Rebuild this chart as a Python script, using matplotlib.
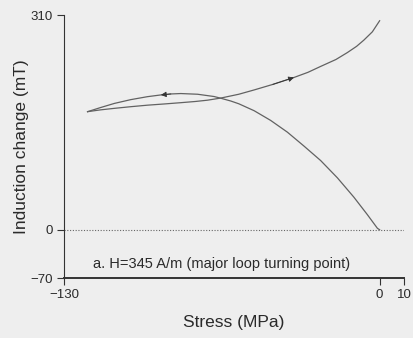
#!/usr/bin/env python3
"""Induction change vs stress, major loop turning point (H=345 A/m)."""

import matplotlib
matplotlib.use('Agg')
import matplotlib.pyplot as plt

plt.rcParams['font.family'] = ['Liberation Sans', 'DejaVu Sans']

# Unloading branch: from 0 MPa down to the turning point at -120 MPa (mT)
down_stress = [0, -0.9, -5.1, -10.6, -17.4, -24.3, -31.2, -38, -44.9, -51.7,
               -58, -61.3, -65.4, -68.2, -75, -81.9, -86, -90.1, -95.6,
               -102.5, -109.3, -115, -120.3]
down_induct = [0, 2, 22, 47, 75, 100, 121, 141, 158, 172,
               182, 186, 190, 192.5, 195.8, 196.8, 196.2, 194.8, 192.3,
               188, 182.5, 176.5, 170.6]

# Reloading branch: from -120 MPa back to 0 MPa (mT)
up_stress = [-120.3, -115, -109.3, -102.5, -95.6, -88.5, -81.9, -76, -70.9,
             -65.4, -58, -51.7, -44, -35.3, -29.5, -24.3, -18, -13.3, -9.5,
             -6.5, -3, 0]
up_induct = [170.6, 173.2, 175.4, 177.8, 180, 181.8, 183.6, 185.3, 187.2,
             190.3, 195.8, 202, 210, 220, 227.5, 236, 246, 256, 265,
             274, 286, 302]

xticks = [-130, 0, 10]
yticks = [-70, 0, 310]

line_col = '#626262'
bg = '#eeeeee'

fig = plt.figure(figsize=(4.13, 3.38), dpi=100, facecolor=bg)
ax = fig.add_axes([0.155, 0.177, 0.823, 0.778], facecolor=bg)

ax.plot(down_stress, down_induct, color=line_col, lw=0.9)
ax.plot(up_stress, up_induct, color=line_col, lw=0.9)

# direction arrows placed on the curves
i = down_stress.index(-90.1)
ax.annotate('', xy=(down_stress[i], down_induct[i]),
            xytext=(down_stress[i - 1], down_induct[i - 1]),
            arrowprops=dict(arrowstyle='-|>', color='#333333', lw=0.6,
                            mutation_scale=8, shrinkA=0, shrinkB=0))
j = up_stress.index(-35.3)
ax.annotate('', xy=(up_stress[j], up_induct[j]),
            xytext=(up_stress[j - 1], up_induct[j - 1]),
            arrowprops=dict(arrowstyle='-|>', color='#333333', lw=0.6,
                            mutation_scale=8, shrinkA=0, shrinkB=0))

ax.axhline(0, color='#666666', lw=0.8, ls=(0, (1, 1.5)))

ax.text(-118.1, -48.8, 'a. H=345 A/m (major loop turning point)',
        fontsize=10.5, color='#2a2a2a', va='center', ha='left')

ax.set_xlim(-130, 10)
ax.set_ylim(-70, 310)
ax.set_xticks(xticks)
ax.set_yticks(yticks)
ax.tick_params(direction='out', length=5, width=0.8, colors='#333333',
               labelsize=9.5, labelcolor='#2a2a2a', pad=3)

for side in ['top', 'right']:
    ax.spines[side].set_visible(False)
ax.spines['left'].set_color('#333333')
ax.spines['bottom'].set_color('#333333')
ax.spines['bottom'].set_linewidth(1.4)

ax.set_xlabel('Stress (MPa)', fontsize=12.5, color='#2a2a2a', labelpad=10)
ax.set_ylabel('Induction change (mT)', fontsize=12.5, color='#2a2a2a',
              labelpad=1)

fig.savefig('out.png', dpi=100, facecolor=bg)
